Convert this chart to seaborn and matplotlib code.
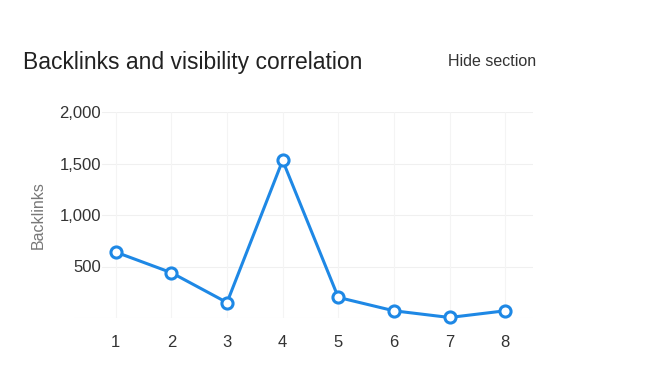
import pandas as pd
import matplotlib
matplotlib.use("Agg")
import matplotlib.pyplot as plt
import seaborn as sns

# Data
positions = [1, 2, 3, 4, 5, 6, 7, 8]
backlinks = [640, 440, 150, 1530, 200, 70, 5, 70]
y_ticks = [500, 1000, 1500, 2000]
y_tick_labels = ["500", "1,000", "1,500", "2,000"]

df = pd.DataFrame({"Position": positions, "Backlinks": backlinks})

sns.set_theme(style="white")
plt.rcParams["font.family"] = ["Liberation Sans", "DejaVu Sans"]

fig = plt.figure(figsize=(6.55, 3.81), dpi=100)
ax = fig.add_axes([74 / 655, 63 / 381, 459 / 655, 206 / 381])

line_color = "#1E88E5"
sns.lineplot(
    data=df, x="Position", y="Backlinks", ax=ax,
    color=line_color, linewidth=2.2, marker="o", markersize=8,
    markerfacecolor="white", markeredgecolor=line_color, markeredgewidth=2.2,
    clip_on=False, zorder=3,
)

ax.set_xlim(0.25, 8.5)
ax.set_ylim(0, 2000)
ax.set_xticks(positions)
ax.set_yticks(y_ticks)
ax.set_yticklabels(y_tick_labels)

# light grid: baseline spans the full width, other lines start right of the labels
ax.axhline(0, color="#eeeeee", linewidth=0.8, zorder=0)
for y in y_ticks:
    ax.axhline(y, xmin=28 / 459, color="#f0f0f0", linewidth=0.8, zorder=0)
for x in positions:
    ax.axvline(x, color="#f4f4f4", linewidth=0.8, zorder=0)

for s in ax.spines.values():
    s.set_visible(False)

ax.tick_params(axis="both", length=0, labelsize=12, colors="#333333")
ax.tick_params(axis="y", pad=-19.5)
ax.tick_params(axis="x", pad=12)
ax.set_xlabel("")
ax.set_ylabel("Backlinks", fontsize=11.5, color="#777777")
ax.yaxis.set_label_coords(-28 / 459, 0.5)

fig.text(23 / 655, 1 - 62 / 381, "Backlinks and visibility correlation",
         fontsize=16.5, color="#222222", va="center", ha="left")
fig.text(536 / 655, 1 - 62 / 381, "Hide section",
         fontsize=11.5, color="#333333", va="center", ha="right")

fig.savefig("out.png", dpi=100, facecolor="white")
